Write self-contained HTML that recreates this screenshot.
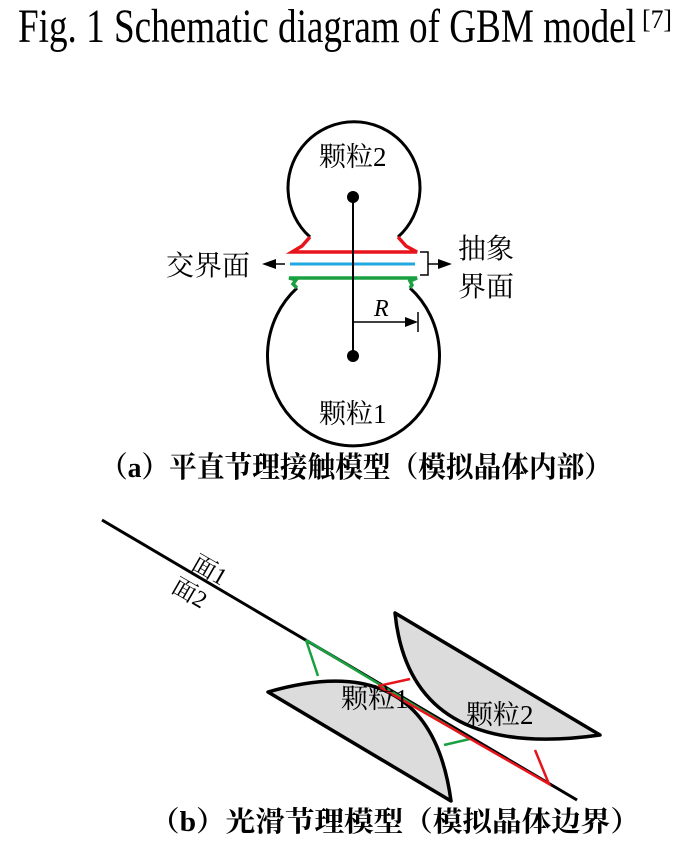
<!DOCTYPE html>
<html><head><meta charset="utf-8"><style>
html,body{margin:0;padding:0;background:#fff;}
svg{display:block;}
text{font-family:"Liberation Serif","Noto Serif CJK SC",serif;fill:#000;}
</style></head><body>
<svg width="690" height="858" viewBox="0 0 690 858" xmlns="http://www.w3.org/2000/svg">
<text x="18" y="42" font-size="48" textLength="618" lengthAdjust="spacingAndGlyphs">Fig. 1 Schematic diagram of GBM model</text>
<text x="642" y="28" font-size="26" textLength="30" lengthAdjust="spacingAndGlyphs">[7]</text>

<!-- part a -->
<g fill="none" stroke="#000" stroke-width="3">
<path d="M310,237 A66,66 0 1 1 398,237"/>
<path d="M297,288 A86,90 0 1 0 410,288"/>
</g>
<path d="M310,237 L302,246 L292,252 L417,252 L406,246 L398,237" fill="none" stroke="#e8141c" stroke-width="3.5"/>
<line x1="290" y1="264" x2="415" y2="264" stroke="#22a8e0" stroke-width="3"/>
<path d="M297,288 L293,284 L296,280 L289,278 L417,278 L410,281 L412,285 L410,288" fill="none" stroke="#1aa040" stroke-width="3.5"/>
<line x1="353" y1="197" x2="353" y2="356" stroke="#000" stroke-width="2"/>
<circle cx="353" cy="197" r="6"/>
<circle cx="353" cy="356" r="6"/>
<line x1="353" y1="322" x2="410" y2="322" stroke="#000" stroke-width="1.5"/>
<path d="M418,322 L405,317 L405,327 Z"/>
<line x1="418" y1="312" x2="418" y2="332" stroke="#000" stroke-width="1.5"/>
<text x="374" y="316" font-size="24" font-style="italic">R</text>
<text x="319" y="166" font-size="27">颗粒2</text>
<text x="319" y="423" font-size="27">颗粒1</text>
<path d="M420,252 L428,252 L428,275 L420,275 M428,264 L440,264" fill="none" stroke="#000" stroke-width="1.5"/>
<path d="M452,264 L438,259 L438,269 Z"/>
<text x="458" y="258" font-size="28">抽象</text>
<text x="458" y="296" font-size="28">界面</text>
<text x="166" y="275" font-size="28">交界面</text>
<line x1="272" y1="264" x2="285" y2="264" stroke="#000" stroke-width="1.5"/>
<path d="M262,264 L276,259 L276,269 Z"/>
<text x="356" y="477" font-size="29" text-anchor="middle" font-weight="bold" textLength="512" lengthAdjust="spacingAndGlyphs">（a）平直节理接触模型（模拟晶体内部）</text>

<!-- part b -->
<line x1="102" y1="520" x2="577" y2="800" stroke="#000" stroke-width="3"/>
<path d="M268,692 Q430,645 451,801 Z" fill="#dcdcdc" stroke="#000" stroke-width="3.5" stroke-linejoin="round"/>
<path d="M395,613 Q410,762 600,735 Z" fill="#dcdcdc" stroke="#000" stroke-width="3.5" stroke-linejoin="round"/>
<path d="M306,640 L318,676 M306,640 L470,739 L444,745" fill="none" stroke="#1aa040" stroke-width="2.5"/>
<path d="M378,686 L410,679 M378,686 L549,784 L535,750" fill="none" stroke="#e8141c" stroke-width="2.5"/>
<text x="341" y="708" font-size="27">颗粒1</text>
<text x="466" y="724" font-size="27">颗粒2</text>
<text transform="translate(190,568) rotate(30)" font-size="24">面1</text>
<text transform="translate(170,591) rotate(30)" font-size="24">面2</text>
<text x="395" y="831" font-size="28" text-anchor="middle" font-weight="bold" textLength="490" lengthAdjust="spacingAndGlyphs">（b）光滑节理模型（模拟晶体边界）</text>
</svg>
</body></html>
